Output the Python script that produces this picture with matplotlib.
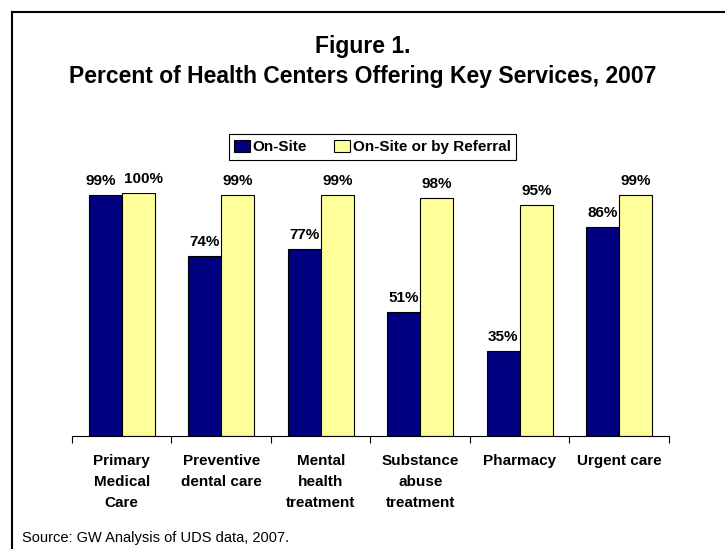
import numpy as np
import matplotlib.pyplot as plt
from matplotlib.lines import Line2D

plt.rcParams['font.family'] = ['Liberation Sans', 'DejaVu Sans']

categories = ['Primary\nMedical\nCare', 'Preventive\ndental care', 'Mental\nhealth\ntreatment',
              'Substance\nabuse\ntreatment', 'Pharmacy', 'Urgent care']
on_site = [99, 74, 77, 51, 35, 86]
on_site_or_referral = [100, 99, 99, 98, 95, 99]
series_names = ['On-Site', 'On-Site or by Referral']

W, H = 725, 549
fig = plt.figure(figsize=(W / 100, H / 100), dpi=100)

# outer frame, only top and left edges are inside the picture
fig.add_artist(Line2D([12 / W, 12 / W], [0, 1 - 12 / H], color='black', lw=1.5))
fig.add_artist(Line2D([12 / W, 1], [1 - 12 / H, 1 - 12 / H], color='black', lw=1.5))

fig.text(0.5, 1 - 47 / H, 'Figure 1.', ha='center', va='center', fontsize=16.5, fontweight='bold')
fig.text(0.5, 1 - 76 / H, 'Percent of Health Centers Offering Key Services, 2007',
         ha='center', va='center', fontsize=16.5, fontweight='bold')

ax = fig.add_axes([72 / W, (H - 436) / H, 597 / W, 243 / H])
x = np.arange(len(categories))
w = 1 / 3
b1 = ax.bar(x - w / 2, on_site, w, color='#000080', edgecolor='black', lw=0.8, label=series_names[0])
b2 = ax.bar(x + w / 2, on_site_or_referral, w, color='#FFFF99', edgecolor='black', lw=0.8, label=series_names[1])

# labels; push the pair apart a bit when both bars are about the same height
for i, (r1, r2) in enumerate(zip(b1, b2)):
    v1, v2 = on_site[i], on_site_or_referral[i]
    close = abs(v1 - v2) < 5
    for r, v, dx in [(r1, v1, -3 if close else 0), (r2, v2, 4 if close else 0)]:
        ax.annotate(f'{v}%', (r.get_x() + r.get_width() / 2, v), xytext=(dx, 5),
                    textcoords='offset points', ha='center', va='bottom',
                    fontsize=11, fontweight='bold')

ax.set_xlim(-0.5, len(categories) - 0.5)
ax.set_ylim(0, 100)
for s in ['top', 'right', 'left']:
    ax.spines[s].set_visible(False)
ax.spines['bottom'].set_linewidth(0.8)
ax.set_yticks([])
ax.set_xticks(x)
ax.set_xticklabels(categories, fontsize=11, fontweight='bold', linespacing=1.65)
ax.tick_params(axis='x', which='major', length=0, pad=13)
ax.set_xticks(np.arange(-0.5, len(categories)), minor=True)
ax.tick_params(axis='x', which='minor', length=5, width=0.8, direction='out')

leg = fig.legend(loc='center', bbox_to_anchor=(372.5 / W, 1 - 147 / H), ncol=2,
                 frameon=True, fancybox=False, edgecolor='black', framealpha=1,
                 handlelength=1.0, handleheight=0.9, handletextpad=0.2, columnspacing=1.8,
                 borderpad=0.35, borderaxespad=0, prop={'weight': 'bold', 'size': 11})
leg.get_frame().set_linewidth(0.8)

fig.text(22 / W, 1 - 538 / H, 'Source: GW Analysis of UDS data, 2007.', ha='left', va='center', fontsize=10.5)

fig.savefig('out.png', dpi=100)
